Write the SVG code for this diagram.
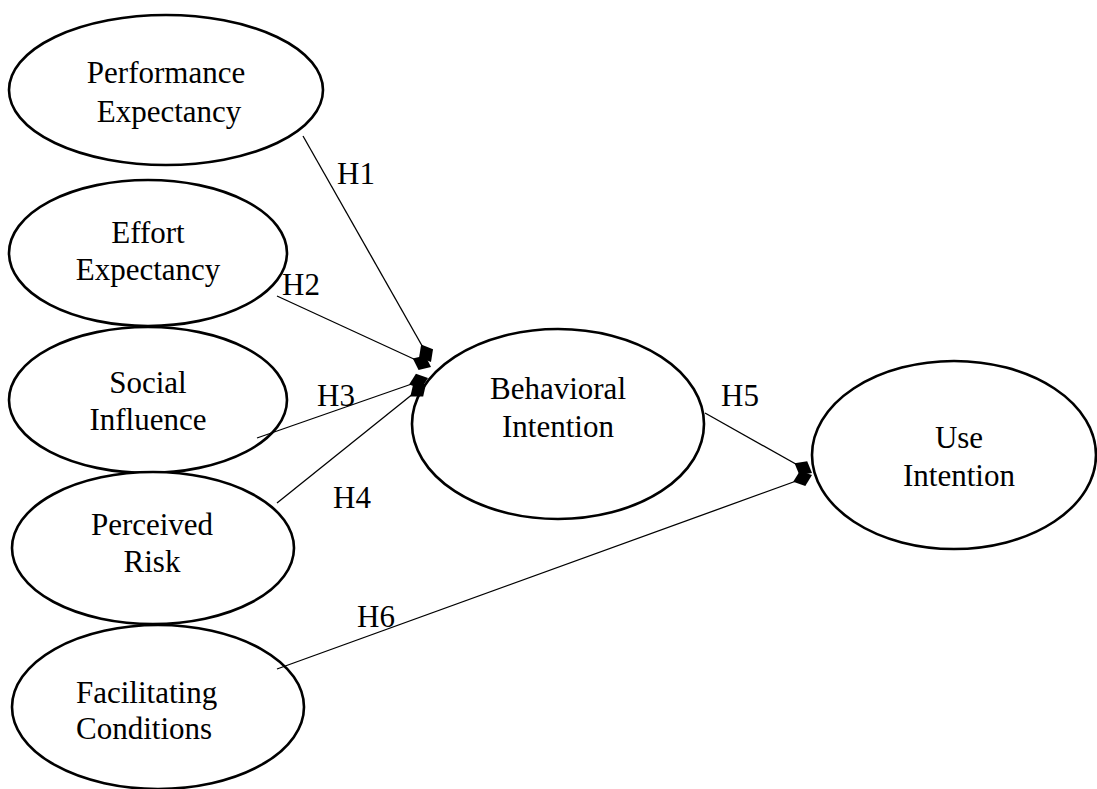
<svg xmlns="http://www.w3.org/2000/svg" xmlns:xlink="http://www.w3.org/1999/xlink" width="1097" height="789" viewBox="0 0 1097 789">
<style>
.node ellipse{fill:#fff;stroke:#000;stroke-width:2.6}
text{font-family:"Liberation Serif","Times New Roman",serif;font-size:31px;fill:#000}
.c{text-anchor:middle}
.edges line{stroke:#000;stroke-width:1.3}
.head{fill:#000}
</style>
<defs>
<path id="dia" d="M0,0 L-10,-8 L-20,0 L-10,8 Z"/>
</defs>
<rect width="1097" height="789" fill="#fff"/>
<g id="pe" class="node"><ellipse cx="166" cy="90" rx="157" ry="75"/><text class="c" x="166" y="83">Performance</text><text class="c" x="169" y="122">Expectancy</text></g>
<g id="ee" class="node"><ellipse cx="148" cy="253" rx="139" ry="73"/><text class="c" x="148" y="243">Effort</text><text class="c" x="148" y="280">Expectancy</text></g>
<g id="si" class="node"><ellipse cx="148" cy="400" rx="139" ry="73"/><text class="c" x="148" y="393">Social</text><text class="c" x="148" y="430">Influence</text></g>
<g id="pr" class="node"><ellipse cx="153" cy="548" rx="141" ry="76"/><text class="c" x="152" y="535">Perceived</text><text class="c" x="152" y="572">Risk</text></g>
<g id="fc" class="node"><ellipse cx="158" cy="707" rx="146" ry="82"/><text x="76" y="703">Facilitating</text><text x="76" y="739">Conditions</text></g>
<g id="bi" class="node"><ellipse cx="558" cy="424" rx="146" ry="95"/><text class="c" x="558" y="399">Behavioral</text><text class="c" x="558" y="437">Intention</text></g>
<g id="ui" class="node"><ellipse cx="954" cy="455" rx="142" ry="94"/><text class="c" x="959" y="448">Use</text><text class="c" x="959" y="486">Intention</text></g>
<g id="connectors" class="edges">
<line x1="303" y1="136" x2="429" y2="358"/>
<line x1="277" y1="296" x2="429" y2="366"/>
<line x1="257" y1="438" x2="426" y2="379"/>
<line x1="277" y1="503" x2="424" y2="385"/>
<line x1="705" y1="413" x2="810" y2="472"/>
<line x1="277" y1="669" x2="810" y2="476"/>
<g class="head">
<use xlink:href="#dia" href="#dia" transform="translate(431,362) rotate(60.5)"/>
<use xlink:href="#dia" href="#dia" transform="translate(431,367) rotate(24.8)"/>
<use xlink:href="#dia" href="#dia" transform="translate(428,378) rotate(-19.3)"/>
<use xlink:href="#dia" href="#dia" transform="translate(426,384) rotate(-38.6)"/>
<use xlink:href="#dia" href="#dia" transform="translate(812,473) rotate(29.3)"/>
<use xlink:href="#dia" href="#dia" transform="translate(812,475) rotate(-19.9)"/>
</g>
</g>
<g id="labels">
<text x="337" y="184">H1</text>
<text x="282" y="295">H2</text>
<text x="317" y="406">H3</text>
<text x="333" y="508">H4</text>
<text x="721" y="406">H5</text>
<text x="357" y="627">H6</text>
</g>
</svg>
